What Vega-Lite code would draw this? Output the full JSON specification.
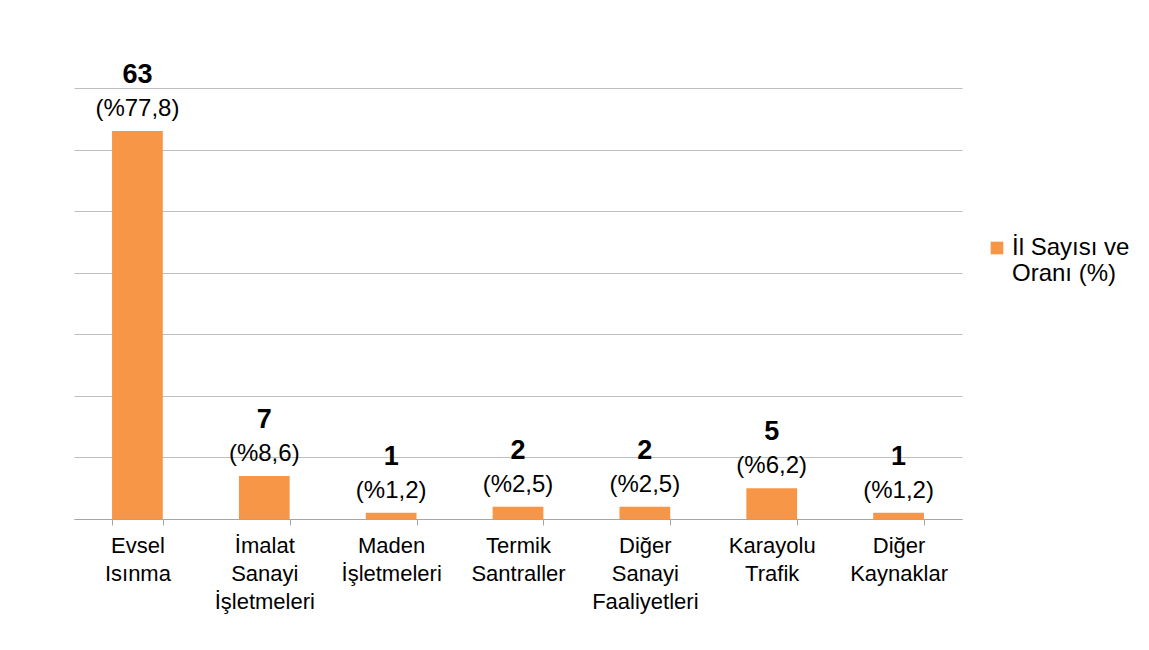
{
  "$schema": "https://vega.github.io/schema/vega-lite/v6.json",
  "autosize": {"type": "none"},
  "width": 888,
  "height": 431,
  "padding": {"left": 74, "top": 88, "right": 187, "bottom": 131},
  "background": "#ffffff",
  "config": {
    "font": "Liberation Sans",
    "view": {"stroke": null}
  },
  "data": {
    "values": [
      {"kaynak": "Evsel\nIsınma", "sayi": 63, "oran": "(%77,8)", "seri": "İl Sayısı ve\nOranı (%)"},
      {"kaynak": "İmalat\nSanayi\nİşletmeleri", "sayi": 7, "oran": "(%8,6)", "seri": "İl Sayısı ve\nOranı (%)"},
      {"kaynak": "Maden\nİşletmeleri", "sayi": 1, "oran": "(%1,2)", "seri": "İl Sayısı ve\nOranı (%)"},
      {"kaynak": "Termik\nSantraller", "sayi": 2, "oran": "(%2,5)", "seri": "İl Sayısı ve\nOranı (%)"},
      {"kaynak": "Diğer\nSanayi\nFaaliyetleri", "sayi": 2, "oran": "(%2,5)", "seri": "İl Sayısı ve\nOranı (%)"},
      {"kaynak": "Karayolu\nTrafik", "sayi": 5, "oran": "(%6,2)", "seri": "İl Sayısı ve\nOranı (%)"},
      {"kaynak": "Diğer\nKaynaklar", "sayi": 1, "oran": "(%1,2)", "seri": "İl Sayısı ve\nOranı (%)"}
    ]
  },
  "encoding": {
    "x": {
      "field": "kaynak",
      "type": "nominal",
      "sort": null,
      "title": null,
      "scale": {"paddingInner": 0.6, "paddingOuter": 0.3},
      "axis": {
        "labelAngle": 0,
        "labelExpr": "split(datum.label, '\\n')",
        "labelFontSize": 22,
        "labelLineHeight": 28,
        "labelColor": "#000000",
        "labelBaseline": "top",
        "labelPadding": 10,
        "labelLimit": 300,
        "domainColor": "#a6a6a6",
        "tickColor": "#a6a6a6",
        "tickSize": 6,
        "tickBand": "extent",
        "grid": false
      }
    },
    "y": {
      "field": "sayi",
      "type": "quantitative",
      "title": null,
      "scale": {"domain": [0, 70]},
      "axis": {
        "values": [0, 10, 20, 30, 40, 50, 60, 70],
        "labels": false,
        "ticks": false,
        "domain": false,
        "grid": true,
        "gridColor": "#bfbfbf",
        "gridWidth": 1
      }
    }
  },
  "layer": [
    {
      "mark": {"type": "bar", "color": "#F79646"},
      "encoding": {
        "color": {
          "field": "seri",
          "type": "nominal",
          "title": null,
          "scale": {"range": ["#F79646"]},
          "legend": {
            "orient": "none",
            "legendX": 911,
            "legendY": 148,
            "symbolType": "square",
            "symbolSize": 160,
            "symbolStrokeWidth": 0,
            "labelExpr": "split(datum.label, '\\n')",
            "labelFontSize": 24,
            "labelColor": "#000000",
            "labelLimit": 300,
            "labelOffset": 3
          }
        }
      }
    },
    {
      "mark": {"type": "text", "fontSize": 24, "color": "#000000", "baseline": "alphabetic", "dy": -15},
      "encoding": {"text": {"field": "oran"}}
    },
    {
      "mark": {"type": "text", "fontSize": 27, "fontWeight": "bold", "color": "#000000", "baseline": "alphabetic", "dy": -48},
      "encoding": {"text": {"field": "sayi", "type": "quantitative"}}
    }
  ]
}
